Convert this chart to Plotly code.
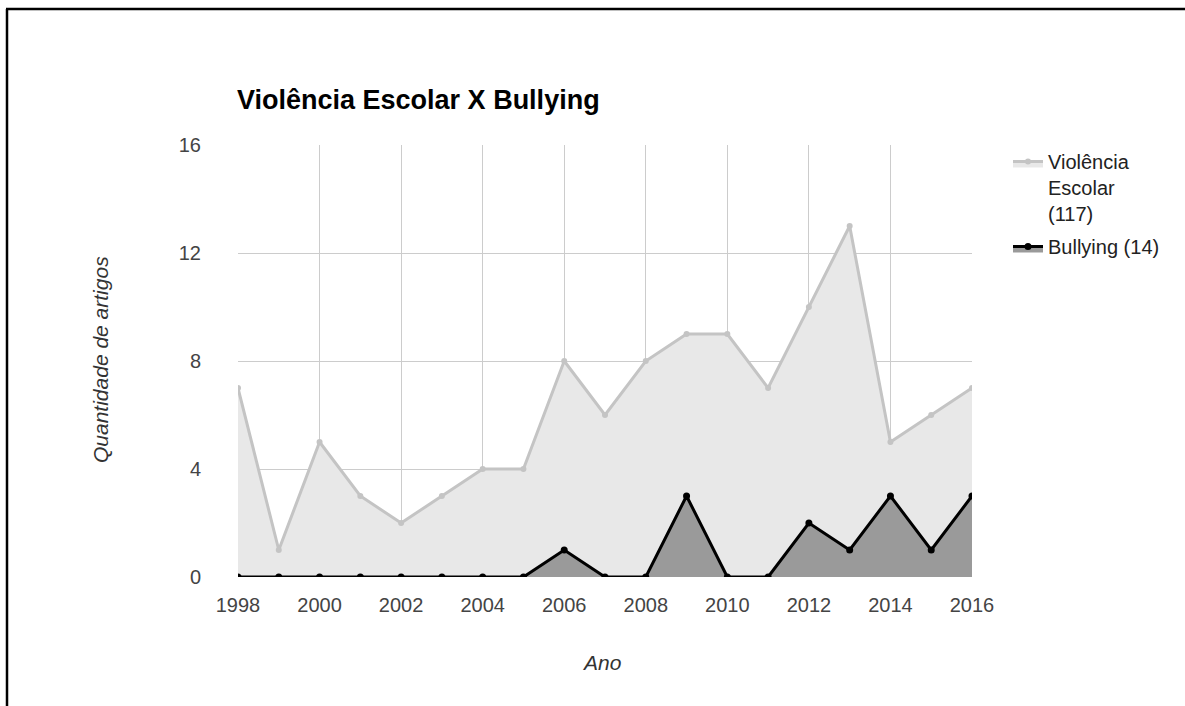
import plotly.graph_objects as go

anos = list(range(1998, 2017))
violencia = [7, 1, 5, 3, 2, 3, 4, 4, 8, 6, 8, 9, 9, 7, 10, 13, 5, 6, 7]
bullying = [0, 0, 0, 0, 0, 0, 0, 0, 1, 0, 0, 3, 0, 0, 2, 1, 3, 1, 3]
nomes = ["Violência<br>Escolar<br>(117)", "Bullying (14)"]

W, H = 1185, 706
L, R, T, B = 238, 972, 145, 577

def px(x):
    return (x - L) / (R - L)

def py(y):
    return (B - y) / (B - T)

fig = go.Figure()
fig.add_trace(go.Scatter(
    x=anos, y=violencia, name=nomes[0], mode="lines+markers", legendgroup="a",
    line=dict(color="#c4c4c4", width=3), marker=dict(color="#c4c4c4", size=6),
    fill="tozeroy", fillcolor="#e8e8e8",
))
fig.add_trace(go.Scatter(
    x=anos, y=bullying, name=nomes[1], mode="lines+markers", legendgroup="b",
    line=dict(color="#000000", width=3), marker=dict(color="#000000", size=7),
    fill="tozeroy", fillcolor="#9a9a9a",
))

font = "Arial, Liberation Sans, sans-serif"
fig.update_layout(
    width=W, height=H,
    margin=dict(l=L, r=W - R, t=T, b=H - B),
    plot_bgcolor="white", paper_bgcolor="white",
    font=dict(family=font, size=19, color="#444"),
    xaxis=dict(range=[1998, 2016], dtick=2, tick0=1998, showgrid=True, gridcolor="#cccccc",
               gridwidth=1, zeroline=False, showline=False, ticks="", ticklabelstandoff=14,
               tickfont=dict(size=20, color="#444")),
    yaxis=dict(range=[0, 16], dtick=4, showgrid=True, gridcolor="#cccccc", gridwidth=1,
               zeroline=False, showline=False, ticks="", ticklabelstandoff=36,
               tickfont=dict(size=20, color="#444")),
    legend=dict(x=px(1008), y=py(142), xanchor="left", yanchor="top",
                font=dict(size=20, color="#222"), bgcolor="rgba(0,0,0,0)",
                valign="top", traceorder="grouped", tracegroupgap=4),
    showlegend=True,
)

fig.add_annotation(text="<b>Violência Escolar X Bullying</b>", xref="paper", yref="paper",
                   x=px(235), y=py(100), showarrow=False, xanchor="left", yanchor="middle",
                   font=dict(size=27, color="#000", family=font))
fig.add_annotation(text="<i>Quantidade de artigos</i>", xref="paper", yref="paper",
                   x=px(100), y=py(360), textangle=-90, showarrow=False,
                   font=dict(size=21, color="#333"), xanchor="center", yanchor="middle")
fig.add_annotation(text="<i>Ano</i>", xref="paper", yref="paper",
                   x=px(602), y=py(662), showarrow=False,
                   font=dict(size=21, color="#333"), xanchor="center", yanchor="middle")

# outer frame (top and left edges)
fig.add_shape(type="line", xref="paper", yref="paper", x0=px(6), x1=px(W + 5),
              y0=py(9), y1=py(9), line=dict(color="#000", width=2.5))
fig.add_shape(type="line", xref="paper", yref="paper", x0=px(7), x1=px(7),
              y0=py(9), y1=py(H + 5), line=dict(color="#000", width=2.5))

fig.write_html("out.html")
